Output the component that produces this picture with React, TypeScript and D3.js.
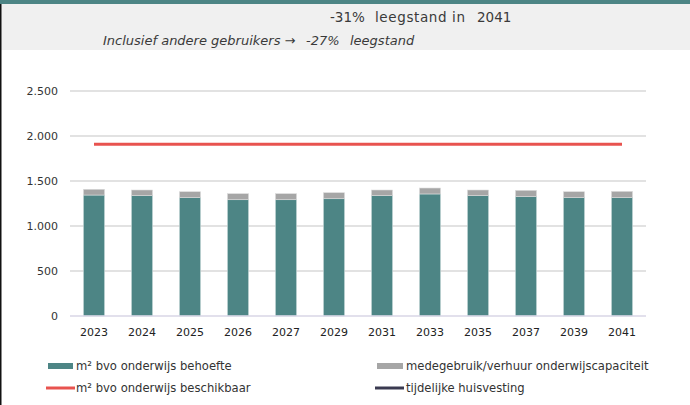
import React from "react";
import * as d3 from "d3";

const years = ["2023", "2024", "2025", "2026", "2027", "2029", "2031", "2033", "2035", "2037", "2039", "2041"];
const behoefte = [1344, 1337, 1315, 1292, 1292, 1303, 1337, 1356, 1337, 1326, 1315, 1315];
const medegebruik = [64, 63, 66, 67, 67, 67, 63, 66, 63, 70, 66, 70];
const beschikbaar = [1908, 1908, 1908, 1908, 1908, 1908, 1908, 1908, 1908, 1908, 1908, 1908];
const yTicks = [0, 500, 1000, 1500, 2000, 2500];

const W = 690;
const H = 405;
const font = "'DejaVu Sans', sans-serif";

const TEAL = "#4d8585";
const GREY = "#a6a6a6";
const RED = "#e8534f";
const DARK = "#3a3a50";

// 2500 -> "2.500"
const fmt = (v: number) => d3.format(",")(v).replace(/,/g, ".");

export default function App() {
  const x = d3.scaleBand<string>().domain(years).range([70, 646]).paddingInner(0.56).paddingOuter(0.28);
  const y = d3.scaleLinear().domain([0, 2500]).range([316, 91]);
  const bw = x.bandwidth();
  const cx = (yr: string) => (x(yr) as number) + bw / 2;

  const redLine = d3
    .line<number>()
    .x((_, i) => cx(years[i]))
    .y((d) => y(d));

  return (
    <div style={{ position: "fixed", left: 0, top: 0 }}>
      <svg width={W} height={H} style={{ display: "block", background: "#fff" }}>
        {/* header band */}
        <rect x={0} y={0} width={W} height={4} fill={TEAL} />
        <rect x={0} y={4} width={W} height={46} fill="#f0f0f0" />
        <line x1={0.75} x2={0.75} y1={4} y2={H} stroke="#111" strokeWidth={1.5} />
        <g fontFamily={font} fontSize={13.5} fill="#3a3a3a">
          <text x={330} y={22}>-31%</text>
          <text x={375} y={22} textLength={90} lengthAdjust="spacing">leegstand in</text>
          <text x={477} y={22}>2041</text>
        </g>
        <g fontFamily={font} fontSize={13} fill="#3a3a3a" fontStyle="italic">
          <text x={103} y={45}>Inclusief andere gebruikers →</text>
          <text x={306} y={45}>-27%</text>
          <text x={350} y={45}>leegstand</text>
        </g>

        {/* grid + y axis */}
        <g fontFamily={font} fontSize={11} fill="#333">
          {yTicks.map((t) => (
            <g key={t}>
              {t > 0 && (
                <line x1={70} x2={646} y1={y(t)} y2={y(t)} stroke="#d9d9d9" strokeWidth={1.3} />
              )}
              <text x={58} y={y(t)} dy="0.35em" textAnchor="end">
                {fmt(t)}
              </text>
            </g>
          ))}
        </g>

        {/* stacked bars */}
        {years.map((yr, i) => (
          <g key={yr}>
            <rect
              x={x(yr)}
              y={y(behoefte[i])}
              width={bw}
              height={y(0) - y(behoefte[i])}
              fill={TEAL}
              stroke="#c8dada"
              strokeWidth={0.6}
            />
            <rect
              x={x(yr)}
              y={y(behoefte[i] + medegebruik[i])}
              width={bw}
              height={y(behoefte[i]) - y(behoefte[i] + medegebruik[i])}
              fill={GREY}
              stroke="#dcdcdc"
              strokeWidth={0.6}
            />
          </g>
        ))}
        <line x1={70} x2={646} y1={y(0)} y2={y(0)} stroke="#d8d6e6" strokeWidth={1.5} />

        {/* beschikbaar line */}
        <path d={redLine(beschikbaar) || ""} fill="none" stroke={RED} strokeWidth={3} />

        {/* x labels */}
        <g fontFamily={font} fontSize={11} fill="#222">
          {years.map((yr) => (
            <text key={yr} x={cx(yr)} y={332} dy="0.35em" textAnchor="middle">
              {yr}
            </text>
          ))}
        </g>

        {/* legend */}
        <g fontFamily={font} fontSize={11.6} fill="#333">
          <rect x={48} y={363} width={25} height={6} fill={TEAL} />
          <text x={76} y={366} dy="0.35em">m² bvo onderwijs behoefte</text>
          <rect x={377} y={363} width={26} height={6} fill={GREY} />
          <text x={406} y={366} dy="0.35em">medegebruik/verhuur onderwijscapaciteit</text>
          <line x1={46} x2={75} y1={388} y2={388} stroke={RED} strokeWidth={3} />
          <text x={76} y={388} dy="0.35em">m² bvo onderwijs beschikbaar</text>
          <line x1={375} x2={404} y1={388} y2={388} stroke={DARK} strokeWidth={3} />
          <text x={406} y={388} dy="0.35em">tijdelijke huisvesting</text>
        </g>
      </svg>
    </div>
  );
}
